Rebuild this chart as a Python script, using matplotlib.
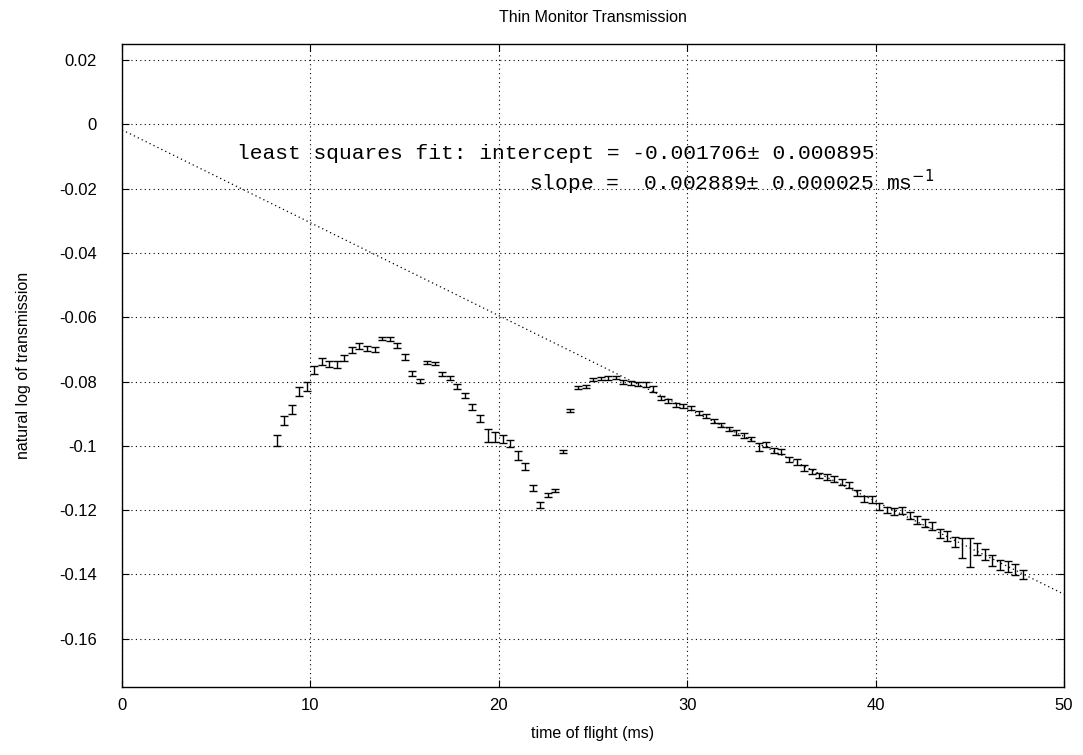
import numpy as np
import matplotlib
matplotlib.use('Agg')
import matplotlib.pyplot as plt

# time of flight (ms) and ln(transmission)
tof = np.round(np.arange(8.2, 47.81, 0.4), 2)
lnT = [-0.0983, -0.0922, -0.0886, -0.0831, -0.0815, -0.0763, -0.0737, -0.0745, -0.0747, -0.0726,
       -0.0703, -0.0690, -0.0697, -0.0700, -0.0666, -0.0668, -0.0687, -0.0723, -0.0774, -0.0798,
       -0.0741, -0.0744, -0.0776, -0.0789, -0.0815, -0.0843, -0.0879, -0.0915, -0.0969, -0.0972,
       -0.0979, -0.0993, -0.1030, -0.1064, -0.1131, -0.1183, -0.1152, -0.1139, -0.1017, -0.0890,
       -0.0818, -0.0815, -0.0794, -0.0791, -0.0789, -0.0787, -0.0801, -0.0804, -0.0807, -0.0809,
       -0.0823, -0.0851, -0.0861, -0.0874, -0.0877, -0.0882, -0.0898, -0.0908, -0.0922, -0.0934,
       -0.0947, -0.0958, -0.0967, -0.0978, -0.1004, -0.0996, -0.1015, -0.1017, -0.1043, -0.1050,
       -0.1069, -0.1079, -0.1093, -0.1097, -0.1103, -0.1112, -0.1121, -0.1147, -0.1165, -0.1167,
       -0.1188, -0.1199, -0.1204, -0.1201, -0.1217, -0.1230, -0.1241, -0.1250, -0.1273, -0.1280,
       -0.1300, -0.1318, -0.1333, -0.1321, -0.1339, -0.1357, -0.1370, -0.1375, -0.1385, -0.1401]
err = [0.0016, 0.0014, 0.0014, 0.0013, 0.0013, 0.0012, 0.0011, 0.0010, 0.0010, 0.0010,
       0.0009, 0.0009, 0.0008, 0.0008, 0.0006, 0.0006, 0.0008, 0.0010, 0.0008, 0.0006,
       0.0005, 0.0005, 0.0006, 0.0007, 0.0007, 0.0008, 0.0010, 0.0012, 0.0020, 0.0016,
       0.0013, 0.0012, 0.0013, 0.0012, 0.0010, 0.0009, 0.0006, 0.0005, 0.0004, 0.0004,
       0.0005, 0.0005, 0.0005, 0.0005, 0.0005, 0.0005, 0.0006, 0.0006, 0.0007, 0.0007,
       0.0008, 0.0006, 0.0006, 0.0006, 0.0006, 0.0006, 0.0006, 0.0006, 0.0006, 0.0006,
       0.0007, 0.0007, 0.0007, 0.0007, 0.0012, 0.0009, 0.0008, 0.0008, 0.0008, 0.0008,
       0.0008, 0.0008, 0.0008, 0.0009, 0.0009, 0.0009, 0.0009, 0.0009, 0.0010, 0.0010,
       0.0010, 0.0010, 0.0011, 0.0011, 0.0011, 0.0012, 0.0012, 0.0013, 0.0014, 0.0015,
       0.0016, 0.0030, 0.0045, 0.0018, 0.0017, 0.0016, 0.0016, 0.0016, 0.0017, 0.0014]

intercept = -0.001706
slope = 0.002889
fit_x = [0, 50]

plt.rcParams['font.family'] = ['Liberation Sans', 'DejaVu Sans']

fig = plt.figure(figsize=(10.83, 7.55), dpi=100)
ax = fig.add_axes([0.1127, 0.0901, 0.8698, 0.8516])

dots = (0, (1, 3))
ax.grid(True, color='black', linestyle=dots, linewidth=0.8)
ax.set_axisbelow(True)

fit_y = [intercept - slope * x for x in fit_x]
ax.plot(fit_x, fit_y, color='black', linestyle=(0, (1, 2.5)), linewidth=0.9)

ax.errorbar(tof, lnT, yerr=err, fmt='none', ecolor='black', elinewidth=1.0,
            capsize=2.6, capthick=1.0)

ax.set_xlim(0, 50)
ax.set_ylim(-0.175, 0.025)
ax.set_xticks(np.arange(0, 51, 10))
ax.set_yticks(np.arange(-0.16, 0.021, 0.02))
ax.set_yticklabels(['-0.16', '-0.14', '-0.12', '-0.1', '-0.08', '-0.06', '-0.04', '-0.02', '0', '0.02'])
ax.tick_params(direction='in', length=5, width=0.8, labelsize=12, top=True, right=True)
ax.tick_params(axis='x', pad=8)
ax.tick_params(axis='y', pad=18)
for s in ax.spines.values():
    s.set_linewidth(1.0)

ax.set_xlabel('time of flight (ms)', fontsize=11.5, labelpad=9)
ax.set_ylabel('natural log of transmission', fontsize=11.5, labelpad=20)
ax.set_title('Thin Monitor Transmission', fontsize=11.5, pad=16)

mono = ['Liberation Mono', 'DejaVu Sans Mono']
ax.text(6.1, -0.009, 'least squares fit: intercept = -0.001706\u00b1 0.000895',
        family=mono, fontsize=15.3, va='center', ha='left')
ax.text(21.6, -0.0182, 'slope =  0.002889\u00b1 0.000025 ms$^{-1}$',
        family=mono, fontsize=15.3, va='center', ha='left')

fig.savefig('out.png', dpi=100)
